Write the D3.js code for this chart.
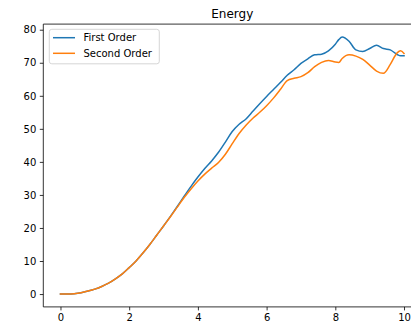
<!DOCTYPE html>
<html>
<head>
<meta charset="utf-8">
<script src="https://cdn.jsdelivr.net/npm/d3@7"></script>
<style>
  html, body { margin: 0; padding: 0; background: #fff; }
  svg { display: block; font-family: "DejaVu Sans", sans-serif; }
</style>
</head>
<body>
<svg id="chart" width="411" height="329"></svg>
<script>
const title = "Energy";
const seriesNames = ["First Order", "Second Order"];
const time = [0, 0.2, 0.4, 0.6, 0.8, 1.0, 1.2, 1.4, 1.6, 1.8, 2.0, 2.2, 2.4, 2.6, 2.8, 3.0,
  3.2, 3.4, 3.6, 3.8, 4.0, 4.2, 4.4, 4.6, 4.8, 5.0, 5.2, 5.4, 5.6, 5.8, 6.0, 6.2, 6.4, 6.6,
  6.8, 7.0, 7.2, 7.4, 7.6, 7.8, 8.0, 8.1, 8.2, 8.4, 8.6, 8.8, 9.0, 9.2, 9.4, 9.6, 9.8, 9.9, 10.0];
const firstOrder = [0, 0, 0.1, 0.4, 0.9, 1.5, 2.3, 3.3, 4.6, 6.1, 8.0, 10.0, 12.4, 15.0, 17.8, 20.6,
  23.5, 26.5, 29.6, 32.6, 35.4, 38.0, 40.3, 42.9, 46.0, 49.2, 51.4, 53.0, 55.3, 57.6, 59.8, 61.9, 64.0, 66.2,
  67.9, 69.8, 71.2, 72.4, 72.6, 73.6, 75.6, 77.0, 77.8, 76.5, 73.9, 73.4, 74.3, 75.3, 74.3, 73.9, 72.5, 72.1, 72.1];
const secondOrder = [0, 0, 0.1, 0.4, 0.9, 1.5, 2.3, 3.3, 4.6, 6.1, 8.0, 10.0, 12.4, 15.0, 17.8, 20.6,
  23.4, 26.3, 29.2, 31.8, 34.2, 36.3, 38.1, 39.8, 42.3, 45.5, 48.6, 51.1, 53.2, 55.0, 57.0, 59.3, 61.9, 64.6,
  65.3, 65.8, 67.0, 68.8, 70.1, 70.7, 70.2, 70.1, 71.3, 72.4, 72.0, 71.0, 69.3, 67.5, 66.8, 69.5, 73.0, 73.6, 72.8];
const xTicks = [0, 2, 4, 6, 8, 10];
const yTicks = [0, 10, 20, 30, 40, 50, 60, 70, 80];
const colors = ["#1f77b4", "#ff7f0e"];

const svg = d3.select("#chart");
const mLeft = 43.3, mRight = 421.2, mTop = 24.1, mBottom = 306.9;

const x = d3.scaleLinear().domain([-0.5, 10.5]).range([mLeft, mRight]);
const y = d3.scaleLinear().domain([-3.89, 81.7]).range([mBottom, mTop]);

svg.append("defs").append("clipPath").attr("id", "clip")
  .append("rect").attr("x", mLeft).attr("y", mTop).attr("width", mRight - mLeft).attr("height", mBottom - mTop);

const line = d3.line().x((d, i) => x(time[i])).y(d => y(d)).curve(d3.curveMonotoneX);

[firstOrder, secondOrder].forEach((s, k) => {
  svg.append("path").datum(s)
    .attr("d", line)
    .attr("fill", "none")
    .attr("stroke", colors[k])
    .attr("stroke-width", 1.5)
    .attr("stroke-linejoin", "round")
    .attr("stroke-linecap", "square")
    .attr("clip-path", "url(#clip)");
});

// axes
const xAxis = d3.axisBottom(x).tickValues(xTicks).tickSize(3.5).tickPadding(3.5).tickFormat(d3.format("d"));
const yAxis = d3.axisLeft(y).tickValues(yTicks).tickSize(3.5).tickPadding(3.5).tickFormat(d3.format("d"));

const gx = svg.append("g").attr("transform", `translate(0,${mBottom})`).call(xAxis);
const gy = svg.append("g").attr("transform", `translate(${mLeft},0)`).call(yAxis);
[gx, gy].forEach(g => {
  g.select(".domain").remove();
  g.selectAll(".tick line").attr("stroke", "#000").attr("stroke-width", 0.8);
  g.selectAll(".tick text").attr("fill", "#000").attr("font-size", 10).attr("font-family", "DejaVu Sans");
});

// spines
svg.append("line").attr("x1", mLeft).attr("x2", mLeft).attr("y1", mTop).attr("y2", mBottom)
  .attr("stroke", "#000").attr("stroke-width", 0.8);
svg.append("line").attr("x1", mLeft).attr("x2", mRight).attr("y1", mBottom).attr("y2", mBottom)
  .attr("stroke", "#000").attr("stroke-width", 0.8);
svg.append("line").attr("x1", mLeft).attr("x2", mRight).attr("y1", mTop).attr("y2", mTop)
  .attr("stroke", "#000").attr("stroke-width", 0.8);
svg.append("line").attr("x1", mRight).attr("x2", mRight).attr("y1", mTop).attr("y2", mBottom)
  .attr("stroke", "#000").attr("stroke-width", 0.8);

// title
svg.append("text").attr("x", (mLeft + mRight) / 2).attr("y", 17.8)
  .attr("text-anchor", "middle").attr("font-size", 12).attr("fill", "#000").text(title);

// legend
const lg = svg.append("g");
lg.append("rect").attr("x", 49.3).attr("y", 29.3).attr("width", 110).attr("height", 34.5)
  .attr("rx", 2.5).attr("fill", "#fff").attr("fill-opacity", 0.8)
  .attr("stroke", "#cccccc").attr("stroke-width", 0.8);
seriesNames.forEach((name, k) => {
  const yy = 37.7 + k * 15.6;
  lg.append("line").attr("x1", 53).attr("x2", 75).attr("y1", yy).attr("y2", yy)
    .attr("stroke", colors[k]).attr("stroke-width", 1.5);
  lg.append("text").attr("x", 83.5).attr("y", yy + 3.7).attr("font-size", 10)
    .attr("fill", "#000").text(name);
});
</script>
</body>
</html>
